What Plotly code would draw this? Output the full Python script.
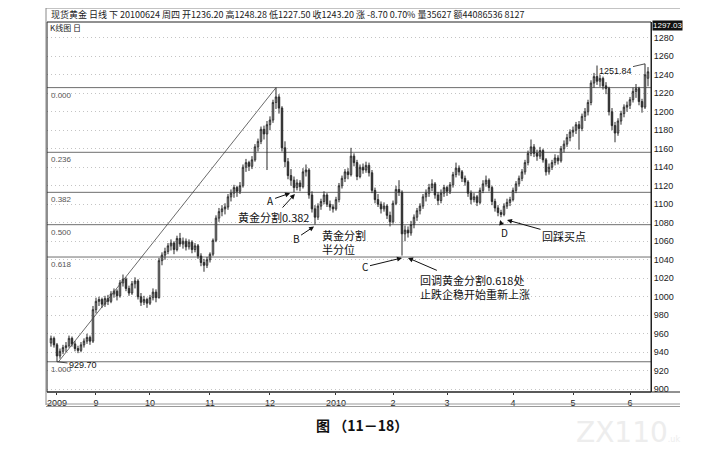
import plotly.graph_objects as go

# daily candles, spot gold, Aug 2009 - Jun 2010
opens = [950, 955, 948, 936, 941, 945, 947, 955, 949, 944, 942, 948, 952, 956, 952, 986, 995, 997, 992, 998,
         995, 1003, 1006, 1001, 1015, 1019, 1009, 1004, 1014, 1017, 1000, 994, 997, 993, 999, 1005, 999, 1039, 1045, 1049,
         1055, 1058, 1051, 1063, 1057, 1060, 1054, 1059, 1051, 1055, 1044, 1037, 1034, 1040, 1046, 1061, 1085, 1092, 1095, 1097,
         1108, 1112, 1118, 1114, 1120, 1140, 1145, 1141, 1148, 1162, 1168, 1181, 1176, 1186, 1191, 1210, 1216, 1204, 1161, 1146,
         1131, 1126, 1118, 1123, 1119, 1135, 1137, 1110, 1095, 1086, 1098, 1103, 1110, 1100, 1097, 1095, 1105, 1120, 1128, 1135,
         1132, 1152, 1145, 1130, 1140, 1137, 1142, 1134, 1115, 1105, 1100, 1095, 1098, 1088, 1081, 1101, 1116, 1113, 1068, 1072,
         1069, 1078, 1086, 1093, 1098, 1108, 1112, 1118, 1122, 1110, 1104, 1112, 1118, 1114, 1121, 1132, 1139, 1135, 1128, 1124,
         1112, 1105, 1108, 1102, 1115, 1122, 1126, 1118, 1103, 1096, 1091, 1089, 1098, 1102, 1105, 1115, 1122, 1128, 1135, 1145,
         1155, 1162, 1155, 1152, 1158, 1148, 1135, 1140, 1145, 1150, 1147, 1160, 1165, 1172, 1178, 1180, 1186, 1182, 1195, 1200,
         1210, 1231, 1238, 1233, 1236, 1228, 1225, 1200, 1185, 1177, 1190, 1198, 1205, 1207, 1213, 1222, 1225, 1211, 1205, 1236.2]
highs = [958, 957, 950, 944, 948, 951, 958, 957, 952, 947, 951, 955, 960, 958, 990, 999, 1000, 999, 1001, 1002,
         1006, 1009, 1008, 1018, 1024, 1021, 1012, 1017, 1021, 1019, 1004, 1001, 999, 1002, 1009, 1008, 1042, 1048, 1053, 1058,
         1062, 1060, 1066, 1069, 1064, 1063, 1062, 1061, 1058, 1057, 1047, 1041, 1043, 1048, 1063, 1088, 1096, 1099, 1101, 1111,
         1116, 1121, 1120, 1124, 1143, 1149, 1147, 1152, 1165, 1171, 1184, 1185, 1190, 1195, 1213, 1226.1, 1219, 1206, 1168, 1150,
         1138, 1130, 1127, 1126, 1139, 1143, 1139, 1114, 1099, 1101, 1106, 1114, 1112, 1104, 1100, 1108, 1123, 1131, 1138, 1139,
         1161, 1155, 1148, 1143, 1144, 1146, 1145, 1137, 1118, 1111, 1103, 1102, 1100, 1092, 1104, 1120, 1126, 1115, 1077, 1076,
         1082, 1089, 1096, 1101, 1111, 1116, 1122, 1127, 1124, 1113, 1116, 1121, 1120, 1124, 1135, 1145, 1142, 1137, 1131, 1126,
         1115, 1112, 1110, 1118, 1126, 1131, 1128, 1120, 1106, 1099, 1094, 1101, 1106, 1108, 1118, 1125, 1131, 1138, 1148, 1158,
         1170, 1165, 1159, 1162, 1160, 1150, 1144, 1148, 1154, 1153, 1163, 1169, 1176, 1181, 1184, 1189, 1190, 1198, 1204, 1213,
         1234, 1242, 1250, 1240, 1238, 1232, 1227, 1204, 1189, 1193, 1201, 1208, 1211, 1216, 1226, 1230, 1227, 1214, 1251.84, 1248.28]
lows = [946, 945, 929.7, 933, 938, 940, 945, 946, 941, 939, 940, 945, 949, 948, 950, 982, 990, 988, 989, 991,
        993, 999, 996, 999, 1011, 1006, 1001, 1002, 1009, 997, 990, 991, 988, 991, 996, 994, 998, 1034, 1040, 1046,
        1050, 1046, 1049, 1054, 1052, 1050, 1051, 1047, 1048, 1041, 1033, 1027, 1031, 1037, 1044, 1059, 1081, 1087, 1089, 1094,
        1103, 1107, 1108, 1111, 1118, 1135, 1136, 1138, 1146, 1157, 1165, 1170, 1137, 1180, 1188, 1203, 1198, 1157, 1140, 1127,
        1120, 1113, 1115, 1114, 1117, 1130, 1106, 1091, 1078, 1083, 1094, 1100, 1097, 1093, 1091, 1093, 1102, 1117, 1124, 1127,
        1130, 1141, 1126, 1128, 1133, 1134, 1130, 1112, 1101, 1097, 1090, 1092, 1084, 1076, 1079, 1099, 1109, 1044.5, 1060, 1064,
        1066, 1074, 1082, 1089, 1095, 1103, 1108, 1114, 1106, 1099, 1101, 1108, 1109, 1111, 1118, 1129, 1131, 1124, 1120, 1108,
        1100, 1102, 1098, 1100, 1112, 1119, 1114, 1099, 1092, 1087, 1086, 1087, 1095, 1098, 1103, 1112, 1119, 1125, 1132, 1142,
        1152, 1151, 1147, 1149, 1145, 1131, 1132, 1137, 1142, 1143, 1145, 1156, 1162, 1168, 1173, 1176, 1159, 1179, 1190, 1196,
        1207, 1226, 1229, 1227, 1224, 1219, 1196, 1180, 1167, 1174, 1186, 1194, 1200, 1203, 1210, 1215, 1207, 1199, 1203, 1227.5]
closes = [955, 948, 936, 941, 945, 947, 955, 949, 944, 942, 948, 952, 956, 952, 986, 995, 997, 992, 998, 995,
          1003, 1006, 1001, 1015, 1019, 1009, 1004, 1014, 1017, 1000, 994, 997, 993, 999, 1005, 999, 1039, 1045, 1049, 1055,
          1058, 1051, 1063, 1057, 1060, 1054, 1059, 1051, 1055, 1044, 1037, 1034, 1040, 1046, 1061, 1085, 1092, 1095, 1097, 1108,
          1112, 1118, 1114, 1120, 1140, 1145, 1141, 1148, 1162, 1168, 1181, 1176, 1186, 1191, 1210, 1216, 1204, 1161, 1146, 1131,
          1126, 1118, 1123, 1119, 1135, 1137, 1110, 1095, 1086, 1098, 1103, 1110, 1100, 1097, 1095, 1105, 1120, 1128, 1135, 1132,
          1152, 1145, 1130, 1140, 1137, 1142, 1134, 1115, 1105, 1100, 1095, 1098, 1088, 1081, 1101, 1116, 1113, 1068, 1072, 1069,
          1078, 1086, 1093, 1098, 1108, 1112, 1118, 1122, 1110, 1104, 1112, 1118, 1114, 1121, 1132, 1139, 1135, 1128, 1124, 1112,
          1105, 1108, 1102, 1115, 1122, 1126, 1118, 1103, 1096, 1091, 1089, 1098, 1102, 1105, 1115, 1122, 1128, 1135, 1145, 1155,
          1162, 1155, 1152, 1158, 1148, 1135, 1140, 1145, 1150, 1147, 1160, 1165, 1172, 1178, 1180, 1186, 1182, 1195, 1200, 1210,
          1231, 1238, 1233, 1236, 1228, 1225, 1200, 1185, 1177, 1190, 1198, 1205, 1207, 1213, 1222, 1225, 1211, 1205, 1240, 1243.2]

month_pos = [2, 15, 33, 53, 73, 95, 114, 132, 154, 174, 193]
month_text = ["2009", "9", "10", "11", "12", "2010", "2", "3", "4", "5", "6"]
price_ticks = list(range(900, 1281, 20))

fib_ratios = [0.0, 0.236, 0.382, 0.5, 0.618, 1.0]
fib_text = ["0.000", "0.236", "0.382", "0.500", "0.618", "1.000"]

header = ("现货黄金 日线 下 20100624 周四 开1236.20 高1248.28 低1227.50 收1243.20 "
          "涨 -8.70 0.70% 量35627 额44086536 8127")

# the page body has an 8px margin, so the figure is drawn 8px in from the corner
OFF = 8
W, H = 702 - 2 * OFF, 458 - 2 * OFF
L, R, T, B = 47 - OFF, W - (651 - OFF), 22 - OFF, H - (392 - OFF)
CJK = "Noto Sans CJK SC"


def px(x):
    # page pixel -> paper x
    return (x - OFF - L) / (W - L - R)


def py(y):
    # page pixel -> paper y
    return (H - B - (y - OFF)) / (H - T - B)


idx = list(range(len(closes)))
i_low = lows.index(min(lows))
i_high = highs.index(max(highs[:100]))
swing_low, swing_high = lows[i_low], highs[i_high]

fig = go.Figure()
fig.add_trace(go.Candlestick(
    x=idx, open=opens, high=highs, low=lows, close=closes,
    increasing=dict(line=dict(color="#2a2a2a", width=1), fillcolor="white"),
    decreasing=dict(line=dict(color="#2a2a2a", width=1), fillcolor="#2a2a2a"),
    whiskerwidth=0, showlegend=False, hoverinfo="skip",
))

shapes = []
annotations = []

# golden section levels
for r, t in zip(fib_ratios, fib_text):
    lvl = swing_high - r * (swing_high - swing_low)
    shapes.append(dict(type="line", xref="paper", yref="y", x0=0, x1=1, y0=lvl, y1=lvl,
                       line=dict(color="#6e6e6e", width=1), layer="below"))
    annotations.append(dict(xref="paper", yref="y", x=px(49), y=lvl, yshift=-1, text=t,
                            showarrow=False, xanchor="left", yanchor="top",
                            font=dict(size=8, color="#555", family="Liberation Sans")))

# swing line low -> high
shapes.append(dict(type="line", xref="x", yref="y", x0=i_low + 0.5, y0=swing_low,
                   x1=i_high, y1=swing_high, line=dict(color="#444", width=0.8)))

# frame
shapes += [
    dict(type="rect", xref="paper", yref="paper", x0=0, x1=1, y0=0, y1=1,
         line=dict(color="#222", width=1)),
    dict(type="line", xref="paper", yref="paper", x0=px(46), x1=px(680), y0=py(8), y1=py(8),
         line=dict(color="#888", width=1)),
    dict(type="line", xref="paper", yref="paper", x0=px(46), x1=px(46), y0=py(8), y1=py(405),
         line=dict(color="#888", width=1)),
    dict(type="line", xref="paper", yref="paper", x0=0, x1=px(680), y0=0, y1=0,
         line=dict(color="#222", width=1)),
    dict(type="line", xref="paper", yref="paper", x0=px(46), x1=px(680), y0=py(404), y1=py(404),
         line=dict(color="#999", width=1)),
    dict(type="line", xref="paper", yref="paper", x0=px(46), x1=px(680), y0=py(406.5), y1=py(406.5),
         line=dict(color="#999", width=1)),
]

annotations += [
    dict(xref="paper", yref="paper", x=px(49), y=py(15), text=header, showarrow=False,
         xanchor="left", yanchor="middle", font=dict(size=9, color="#222", family=CJK)),
    dict(xref="paper", yref="paper", x=px(48), y=py(28), text="K线图 日", showarrow=False,
         xanchor="left", yanchor="middle", font=dict(size=8, color="#222", family=CJK)),
    dict(xref="paper", yref="paper", x=px(652), y=py(25), text="1297.03", showarrow=False,
         xanchor="left", yanchor="middle", bgcolor="#111", borderpad=0,
         font=dict(size=8, color="white", family="Liberation Sans")),
    dict(x=i_low, y=swing_low, text="929.70", ax=26, ay=3, arrowhead=0, arrowwidth=0.8,
         arrowcolor="#222", standoff=0, font=dict(size=9, color="#111", family="Liberation Sans")),
    dict(x=198, y=highs[198], text="1251.84", ax=-30, ay=7, arrowhead=0, arrowwidth=0.8,
         arrowcolor="#222", font=dict(size=9, color="#111", family="Liberation Sans")),
    dict(xref="paper", yref="paper", x=px(362), y=py(425), text="<b>图 （11－18）</b>",
         showarrow=False, xanchor="center", yanchor="middle",
         font=dict(size=14, color="#111", family=CJK)),
    dict(xref="paper", yref="paper", x=px(628), y=py(432),
         text="ZX110<span style='font-size:8px'>.uk</span>", showarrow=False,
         xanchor="center", yanchor="middle",
         font=dict(size=28, color="#ededed", family="DejaVu Sans")),
]

# letters with arrows: (text, tip index, tip price, dx, dy)
notes = [
    ("A", 79.7, 1112, -20, 7),
    ("B", 87.7, 1076, -18, 12),
    ("C", 117, 1042, -37, 9),
    ("D", 149.7, 1083, 4, 13),
]
for t, xi, yp, dx, dy in notes:
    annotations.append(dict(x=xi, y=yp, text=t, ax=dx, ay=dy, arrowhead=2, arrowsize=1,
                            arrowwidth=1, arrowcolor="#111", standoff=0,
                            font=dict(size=10, color="#111", family=CJK)))

# captions, each with an arrow to the candle: (text, tip index, tip price, dx, dy)
captions = [
    ("黄金分割0.382", 81.3, 1111, -21, 23),
    ("黄金分割<br>半分位", 91, 1075, 20, 15),
    ("回调黄金分割0.618处<br>止跌企稳开始重新上涨", 119, 1042, 67, 29),
    ("回踩买点", 152, 1083, 57, 16),
]
for t, xi, yp, dx, dy in captions:
    annotations.append(dict(x=xi, y=yp, text=t, ax=dx, ay=dy, arrowhead=2, arrowsize=1,
                            arrowwidth=1, arrowcolor="#111", standoff=0, align="left",
                            xanchor="center", yanchor="middle",
                            font=dict(size=11, color="#111", family=CJK)))

fig.update_layout(
    width=W, height=H,
    margin=dict(l=L, r=R, t=T, b=B, autoexpand=False),
    plot_bgcolor="white", paper_bgcolor="white",
    showlegend=False,
    shapes=shapes, annotations=annotations,
    xaxis=dict(range=[-1.33, 200], tickvals=month_pos, ticktext=month_text,
               showgrid=False, zeroline=False, ticks="outside", ticklen=2, tickcolor="#333",
               rangeslider=dict(visible=False), fixedrange=True, automargin=False,
               tickfont=dict(size=9, color="#222", family="Liberation Sans")),
    yaxis=dict(range=[897, 1297.03], side="right", tickvals=price_ticks,
               showgrid=True, gridcolor="#c4c4c4", griddash="1px,3px", gridwidth=1,
               zeroline=False, ticks="", showline=True, linecolor="#222", automargin=False,
               tickfont=dict(size=9, color="#222", family="Liberation Sans")),
)

fig.write_html("out.html")
